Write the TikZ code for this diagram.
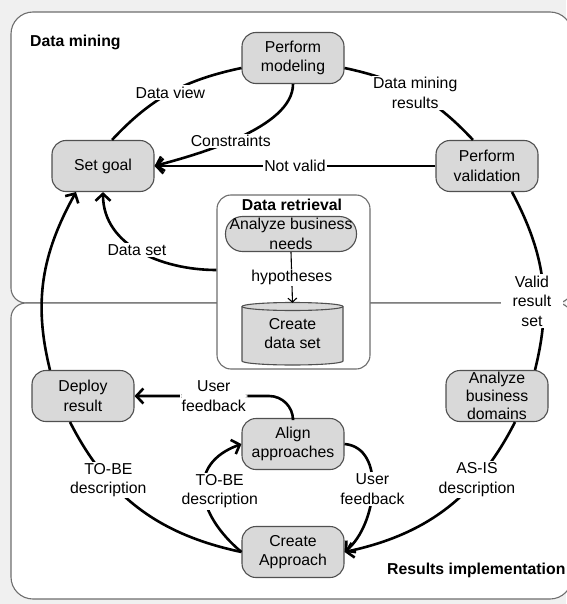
\documentclass[tikz,border=0pt]{standalone}
\usepackage{fontspec}
\setmainfont{Liberation Sans}
\usetikzlibrary{arrows.meta}
\definecolor{bgout}{HTML}{F0F0F0}
\definecolor{framec}{HTML}{6E6E6E}
\definecolor{nodefill}{HTML}{D9D9D9}
\definecolor{nodeline}{HTML}{505050}
\newcommand\dtxt{\fontsize{15.8}{19.5}\selectfont}

\begin{document}
\begin{tikzpicture}[x=1pt,y=1pt,
  proc/.style={draw=nodeline, line width=1.1pt, fill=nodefill, rounded corners=14pt,
    minimum width=102pt, minimum height=51pt, inner sep=0pt, align=center, font=\dtxt},
  conn/.style={line width=2.6pt, draw=black},
  tip/.style={-{Straight Barb[length=7pt,width=15pt]}},
  lbl/.style={fill=white, inner sep=1.5pt, align=center, font=\dtxt},
  title/.style={inner sep=0pt, font=\dtxt\bfseries},
  frame/.style={draw=framec, line width=1.1pt, fill=white},
]
\useasboundingbox (0,0) rectangle (566,-604);
\fill[bgout] (0,0) rectangle (566,-604);

% the two swim areas
\path[frame] (11,-288) -- (11,-34) arc[start angle=180, end angle=90, radius=22]
  -- (550,-12) arc[start angle=90, end angle=0, radius=22]
  -- (572,-288) arc[start angle=0, end angle=-90, radius=15]
  -- (26,-303) arc[start angle=270, end angle=180, radius=15] -- cycle;
\path[frame] (11,-318) arc[start angle=180, end angle=90, radius=15]
  -- (557,-303) arc[start angle=90, end angle=0, radius=15]
  -- (572,-577) arc[start angle=0, end angle=-90, radius=22]
  -- (33,-599) arc[start angle=270, end angle=180, radius=22] -- cycle;

\node[title, anchor=west] (dm) at (30,-42) {Data mining};
\node[title, anchor=west] (ri) at (387,-570) {Results implementation};

% process steps
\node[proc] (model) at (293,-58) {Perform\\modeling};
\node[proc] (goal) at (103,-166) {Set goal};
\node[proc] (valid) at (487,-166) {Perform\\validation};
\node[proc] (deploy) at (83,-396) {Deploy\\result};
\node[proc] (align) at (293,-444) {Align\\approaches};
\node[proc] (create) at (293,-552) {Create\\Approach};
\node[proc, font=\fontsize{15.8}{18}\selectfont] (domains) at (497,-396) {Analyze\\business\\domains};

% data retrieval block
\node[draw=framec, line width=1.1pt, fill=white, rounded corners=14pt,
  minimum width=153pt, minimum height=174pt] (retr) at (293.5,-282) {};
\node[title] (rtitle) at (292,-205) {Data retrieval};
\node[proc, rounded corners=17pt, minimum width=131pt, minimum height=35pt] (needs) at (291,-234) {Analyze business\\needs};
\filldraw[fill=nodefill, draw=nodeline, line width=1.1pt]
  (242,-306.5) -- (242,-361) arc[start angle=180, end angle=360, x radius=50.5, y radius=4]
  -- (343,-306.5) arc[start angle=0, end angle=180, x radius=50.5, y radius=4] -- cycle;
\draw[draw=nodeline, line width=1.1pt] (242,-306.5) arc[start angle=180, end angle=360, x radius=50.5, y radius=4];
\node[minimum width=101pt, minimum height=61pt, inner sep=0pt, align=center, font=\dtxt] (dataset) at (292.5,-333.5) {Create\\data set};
\draw[line width=1.1pt, -{Straight Barb[length=4pt,width=9pt]}] (needs.south) -- node[lbl]{hypotheses} (dataset.north);

% cycle connectors
\draw[conn] ([xshift=9pt]goal.north) to[out=47,in=192] node[lbl]{Data view} ([yshift=-10pt]model.west);
\draw[conn] ([yshift=-10pt]model.east) to[out=-12,in=133] node[lbl]{Data mining\\results} ([xshift=-14pt]valid.north);
\draw[conn] ([xshift=25pt]valid.south) to[out=-62,in=76] node[lbl, inner xsep=12pt, pos=0.63, xshift=-12pt]{Valid\\result\\set} ([xshift=38pt]domains.north);
\draw[conn, tip] ([xshift=18pt]domains.south) to[out=-117,in=12] node[lbl, pos=0.3]{AS-IS\\description} (create.east);
\draw[conn, tip] (align.east) to[out=-5,in=40] node[lbl]{User\\feedback} (create.east);
\draw[conn, tip] (create.west) to[out=140,in=200,looseness=1.4] node[lbl, xshift=16pt]{TO-BE\\description} (align.west);
\draw[conn] (create.west) to[out=168,in=297] node[lbl, pos=0.7]{TO-BE\\description} ([xshift=-13pt]deploy.south);
\draw[conn, tip] ([xshift=-33pt]deploy.north) to[out=104,in=241] ([xshift=-27pt]goal.south);
\draw[conn, tip, rounded corners=24pt] (align.north) |- node[lbl, pos=0.75]{User\\feedback} (deploy.east);
\draw[conn, tip] (valid.west) -- node[lbl]{Not valid} (goal.east);
\draw[conn, tip] (model.south) to[out=-90,in=15,looseness=0.7] node[lbl, pos=0.55]{Constraints} (goal.east);
\draw[conn, tip] ([yshift=12pt]retr.west) to[out=180,in=-90] node[lbl, pos=0.52]{Data set} (goal.south);
\end{tikzpicture}
\end{document}
